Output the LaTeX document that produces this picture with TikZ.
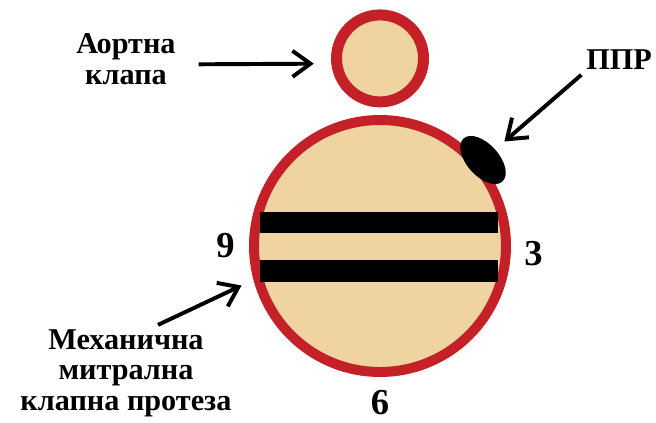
\documentclass[tikz,border=0pt]{standalone}
\usepackage{fontspec}
\setmainfont{Liberation Serif}
\usetikzlibrary{arrows.meta,positioning,shapes.geometric}
\definecolor{valvered}{RGB}{196,32,40}
\definecolor{valvetan}{RGB}{239,211,160}

\begin{document}
\begin{tikzpicture}[
  x=1cm,y=1cm,
  ring/.style={circle,draw=valvered,fill=valvetan,inner sep=0pt},
  leaflet/.style={fill=black},
  pointer/.style={-{Straight Barb[length=4.5mm,width=6.5mm]},draw=black,line width=2.8pt},
  tag/.style={font=\fontsize{21.5}{21.5}\selectfont\bfseries,align=center},
  clock/.style={font=\fontsize{26}{26}\selectfont\bfseries,inner sep=0pt},
]
  \useasboundingbox (0,0) rectangle (16.4,10.55);

  % aortic ring above, mitral prosthesis below
  \node[ring,line width=7.8pt,minimum size=2.175cm] (aorta) at (9.5,9.09) {};
  \node[ring,line width=7.1pt,minimum size=6.3cm] (mitral) at (9.5,4.4) {};

  % the two tilting leaflets
  \fill[leaflet] (6.5,4.725) rectangle (12.45,5.25);
  \fill[leaflet] (6.5,3.5) rectangle (12.45,4.05);

  % paravalvular leak
  \node[ellipse,fill=black,inner sep=0pt,minimum width=1.45cm,minimum height=.8cm,rotate=-48]
    (ppr) at (12.075,6.55) {};

  % clock positions
  \node[clock,left=.35cm of mitral] (nine) {9};
  \node[clock,right=.33cm of mitral,yshift=-.2cm] (three) {3};
  \node[clock,below=.33cm of mitral] (six) {6};

  \node[tag] (aortlbl) at (3.15,9.07) {Аортна\\клапа};
  \node[tag] (pprlbl) at (15.475,9.05) {ППР};
  \node[tag] (mechlbl) at (3.15,1.22) {Механична\\митрална\\клапна протеза};

  \draw[pointer,shorten <=.45cm,shorten >=.43cm]
    ([yshift=-.13cm]aortlbl.east) -- ([yshift=-.13cm]aorta.west);
  \draw[pointer,shorten >=.3cm] (pprlbl.south west) -- (ppr);
  \draw[pointer,shorten >=.33cm] ([xshift=.8cm]mechlbl.north) -- (mitral.195);
\end{tikzpicture}
\end{document}
